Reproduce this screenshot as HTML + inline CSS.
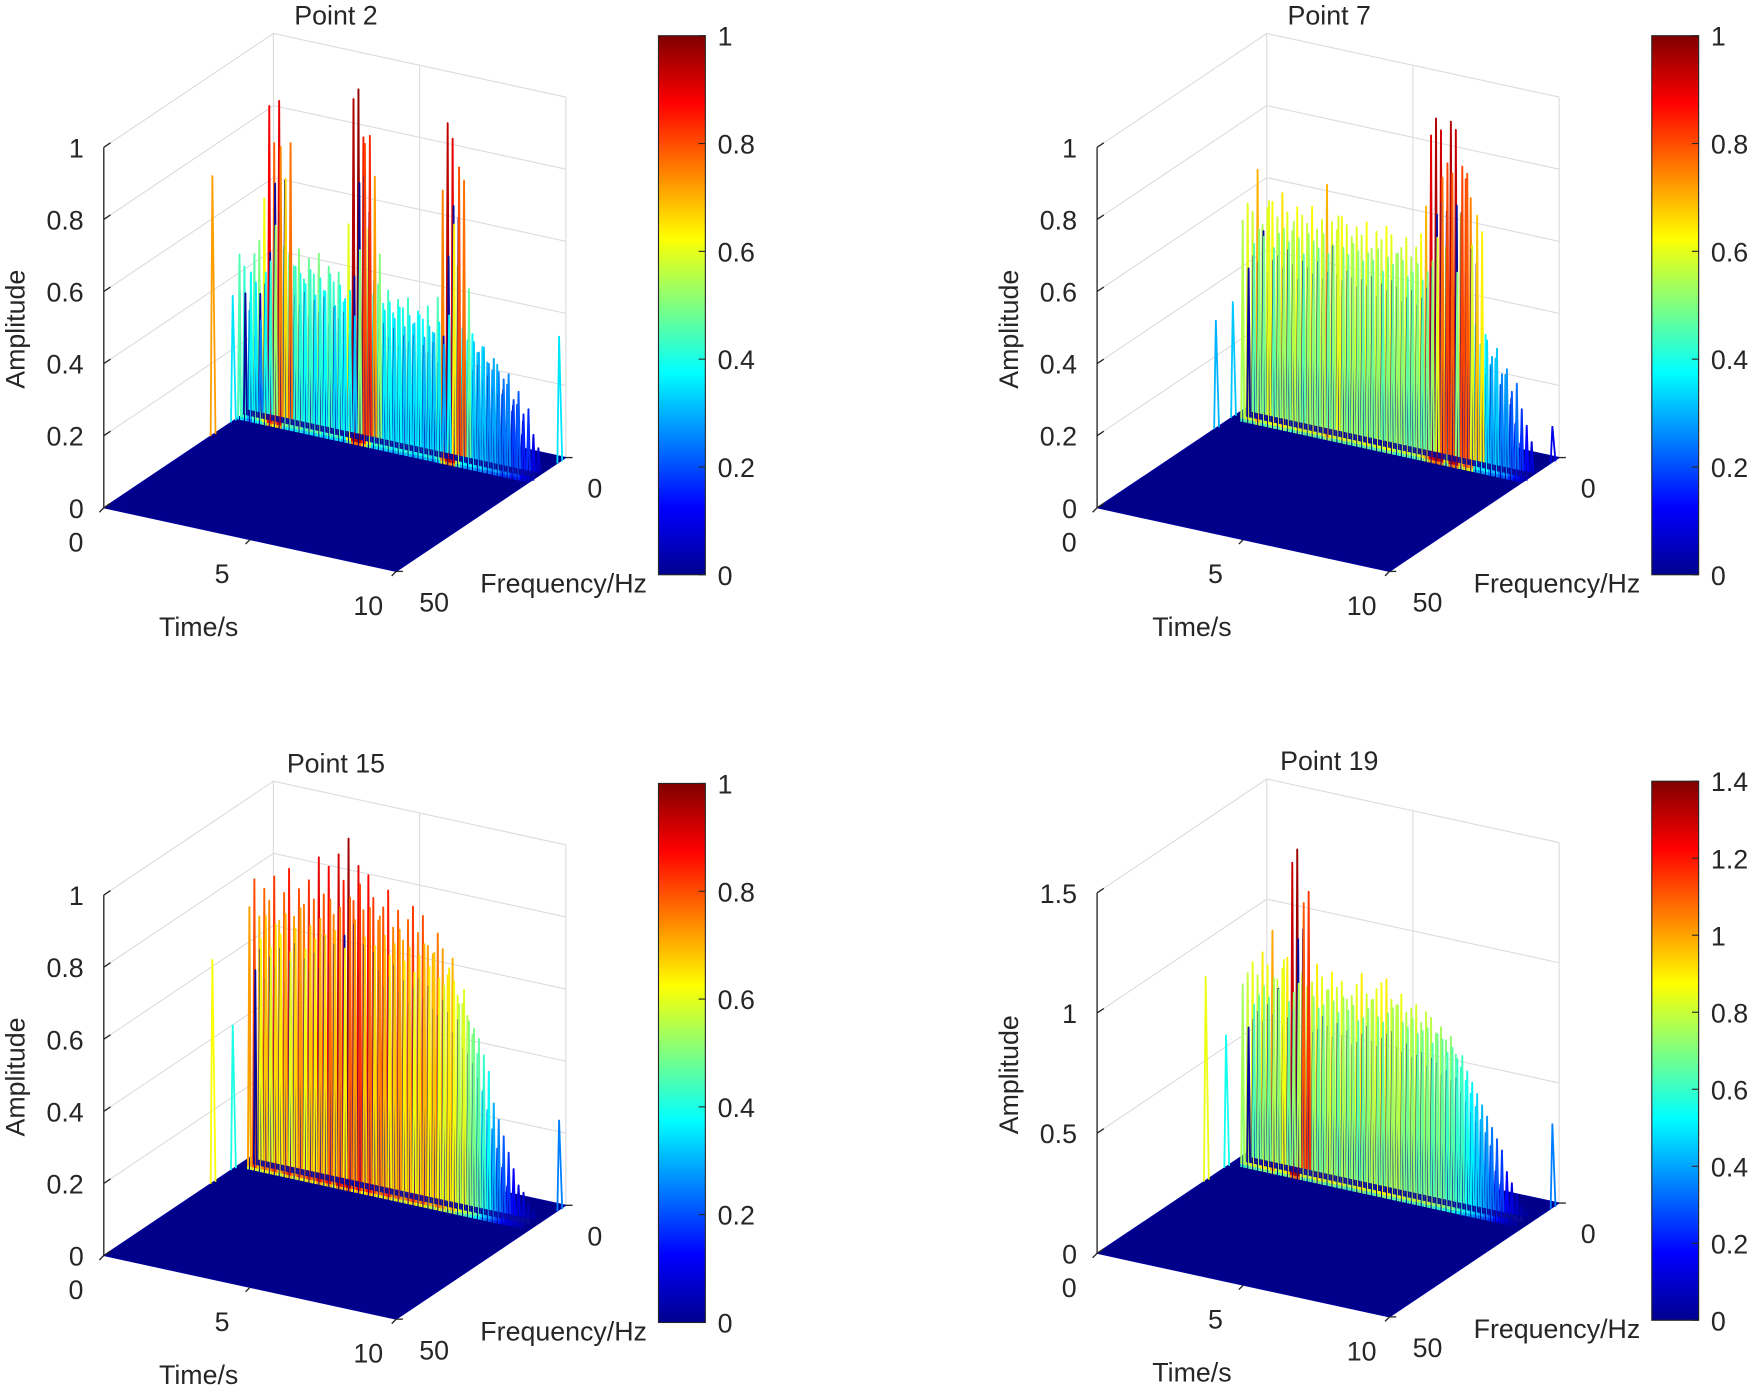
<!DOCTYPE html>
<html><head><meta charset="utf-8"><style>
html,body{margin:0;padding:0;background:#fff;}
svg{display:block;font-family:"Liberation Sans",Arial,sans-serif;}
</style></head><body>
<svg id="fig" width="1750" height="1389" viewBox="0 0 1568 1244.6" preserveAspectRatio="none" xmlns="http://www.w3.org/2000/svg">
<defs>
<linearGradient id="jetbar" x1="0" y1="1" x2="0" y2="0">
<stop offset="0" stop-color="#00008f"/><stop offset="0.125" stop-color="#0000ff"/><stop offset="0.375" stop-color="#00ffff"/><stop offset="0.625" stop-color="#ffff00"/><stop offset="0.875" stop-color="#ff0000"/><stop offset="1" stop-color="#800000"/>
</linearGradient>
</defs>
</svg>
<script>
// ---- data ----
const titles = ["Point 2","Point 7","Point 15","Point 19"];
const p1Amp = [.45,.42,.3,.46,.5,.62,.88,.78,.9,.5,.48,.45,.5,.42,.48,.44,.5,.4,.47,.43,.46,.38,.6,.95,.98,.85,.6,.42,.45,.4,.44,.38,.42,.4,.43,.36,.4,.38,.42,.35,.45,.75,.94,.9,.55,.38,.35,.37,.32,.34,.3,.28,.3,.22,.25,.18,.2,.12,.08,.05];
const p2Amp = [0,0,.55,.6,.58,.7,.55,.6,.62,.58,.65,.6,.55,.62,.6,.58,.63,.57,.6,.7,.6,.58,.62,.6,.57,.6,.58,.62,.55,.6,.58,.62,.6,.55,.57,.6,.55,.58,.62,.7,.9,.95,.92,.6,.95,.93,.7,.8,.75,.4,.35,.38,.3,.32,.25,.28,.2,.15,.1,.05];
const p3Amp = [0,0,.72,.8,.7,.78,.75,.82,.7,.78,.85,.72,.8,.76,.83,.78,.9,.8,.88,.75,.92,.85,.97,.8,.9,.78,.88,.82,.76,.8,.85,.75,.8,.72,.78,.82,.75,.8,.72,.7,.76,.72,.65,.7,.6,.58,.55,.5,.45,.35,.3,.25,.2,.15,.1,.08,.05,.03,0,0];
const p4Amp = [0,0,.75,.8,.85,.8,.9,.85,1.0,.8,.85,.9,1.3,1.36,.85,.8,.82,.9,.85,.8,.88,.82,.85,.78,.8,.85,.9,.82,.8,.85,.88,.9,.82,.8,.85,.78,.8,.82,.75,.8,.78,.72,.75,.7,.72,.65,.6,.55,.5,.45,.4,.35,.3,.2,.15,.1,.05,.03,0,0];
const spikeT = [[0,0,10],[0,0,10],[0,0,10],[0,0,10]];
const spikeF = [[18,12,2],[15,10,2],[18,12,2],[18,12,2]];
const spikeA = [[.72,.35,.35],[.3,.32,.1],[.62,.4,.25],[.85,.55,.35]];
const zTicks = [[0,.2,.4,.6,.8,1],[0,.2,.4,.6,.8,1],[0,.2,.4,.6,.8,1],[0,.5,1,1.5]];
const cbTicks = [[0,.2,.4,.6,.8,1],[0,.2,.4,.6,.8,1],[0,.2,.4,.6,.8,1],[0,.2,.4,.6,.8,1,1.2,1.4]];
const cMax = [1,1,1,1.4];
const zTop = [1,1,1,1.5];
const tTicks = [0,5,10];
const fTicks = [0,50];
const amps = [p1Amp,p2Amp,p3Amp,p4Amp];

const offsets = [[0,0],[890,0],[0,670],[890,668]];
const NS = "http://www.w3.org/2000/svg";
const svg = document.getElementById('fig');
function mk(tag, attrs, parent){const e=document.createElementNS(NS,tag);for(const k in attrs)e.setAttribute(k,attrs[k]);parent.appendChild(e);return e;}
const jetStops = [[0,[0,0,143]],[.125,[0,0,255]],[.375,[0,255,255]],[.625,[255,255,0]],[.875,[255,0,0]],[1,[128,0,0]]];
function jet(v){ v=Math.max(0,Math.min(1,v)); for(let i=1;i<jetStops.length;i++){ if(v<=jetStops[i][0]){ const [a0,c0]=jetStops[i-1],[a1,c1]=jetStops[i]; const r=(v-a0)/(a1-a0); return 'rgb('+c0.map((c,k)=>Math.round(c+(c1[k]-c)*r)).join(',')+')'; } } return 'rgb(128,0,0)'; }

amps.forEach((amp, p) => {
  const [ox, oy] = offsets[p];
  const zs = 323 / zTop[p];
  const P = (t, f, z) => [ox + 245 + 26.2*t - 3.04*f, oy + 353 + 5.7*t + 2.04*f - zs*z];
  const g = mk('g', {}, svg);
  
  
  const grid = mk('g', {stroke: '#dcdcdc', 'stroke-width': 1, fill: 'none'}, g);
  
  
  zTicks[p].forEach(z => {
    const a = P(0,50,z), b = P(0,0,z), c = P(10,0,z);
    mk('polyline', {points: `${a} ${b} ${c}`}, grid);
  });
  [[0,0],[5,0],[10,0]].forEach(([t,f]) => { const a=P(t,f,0), b=P(t,f,zTop[p]); mk('line',{x1:a[0],y1:a[1],x2:b[0],y2:b[1]},grid); });
  const fl = [P(0,0,0),P(10,0,0),P(10,50,0),P(0,50,0)];
  const floor = mk('polygon', {points: fl.map(q=>q.join(',')).join(' '), fill: '#00008b', stroke: '#00009a'}, g);
  
  
  const cur = mk('g', {fill: 'none', 'stroke-width': 1.7, 'stroke-linejoin': 'round'}, g);
  
  
  const n = amp.length, dt = 10/(n-1), d = dt*0.3;
  [[11,0.8,0.7,false],[10,1,0,false],[9,0.75,0.5,true],[7,0.85,0.25,false]].forEach(([f, sc, sh, dark]) => {
    amp.forEach((a, i) => {
      if (a <= 0) return;
      const t = i*dt + sh*dt;
      if (t > 10) return;
      const h = a*sc;
      const pts = [P(t-d,f,0), P(t,f,h), P(t+d,f,0)];
      const pl = mk('polyline', {points: pts.map(q=>q.join(',')).join(' '), stroke: dark ? '#0a0a9a' : jet(h/cMax[p])}, cur);
      
      
    });
  });
  spikeT[p].forEach((t, i) => {
    const f = spikeF[p][i], a = spikeA[p][i];
    const pts = [P(t,f+0.5,0), P(t,f,a), P(t+0.05,f-0.5,0)];
    const pl = mk('polyline', {points: pts.map(q=>q.join(',')).join(' '), fill:'none', stroke: jet(a/cMax[p]), 'stroke-width':1.6}, g);
    
    
  });
  const ax = mk('g', {stroke: '#262626', 'stroke-width': 1.2}, g);
  
  
  let a0 = P(0,50,0), a1 = P(0,50,zTop[p]);
  mk('line', {x1:a0[0],y1:a0[1],x2:a1[0],y2:a1[1]}, ax);
  const txt = (x,y,s,anchor,size,name) => { const e = mk('text',{x:x,y:y,'text-anchor':anchor||'middle','font-size':size||24,fill:'#262626'},g); e.textContent=s;   return e; };
  zTicks[p].forEach(z => { const q=P(0,50,z); mk('line',{x1:q[0],y1:q[1],x2:q[0]+6,y2:q[1]-4},ax); txt(q[0]-18,q[1]+9,String(z),'end',24,'z-tick-label'); });
  tTicks.forEach(t => { const q=P(t,50,0); mk('line',{x1:q[0],y1:q[1],x2:q[0]-4,y2:q[1]+4},ax); txt(q[0]-25,q[1]+39,String(t),'middle',24,'time-tick-label'); });
  fTicks.forEach(f => { const q=P(10,f,0); mk('line',{x1:q[0],y1:q[1],x2:q[0]+6,y2:q[1]},ax); txt(q[0]+(f===0?26:34),q[1]+36,String(f),'middle',24,'freq-tick-label'); });
  txt(ox+301, oy+22, titles[p], 'middle', 24, 'panel-title');
  const am = txt(0,0,'Amplitude','middle',24,'z-axis-title'); am.setAttribute('transform',`translate(${ox+22},${oy+295}) rotate(-90)`);
  txt(ox+178, oy+570, 'Time/s', 'middle', 24, 'time-axis-title');
  txt(ox+505, oy+531, 'Frequency/Hz', 'middle', 24, 'frequency-axis-title');
  const cb = mk('rect', {x: ox+590, y: oy+32, width: 42, height: 483, fill: 'url(#jetbar)', stroke: '#262626', 'stroke-width': 1}, g);
  
  
  cbTicks[p].forEach(v => {
    const y = oy + 515 - 483*v/cMax[p];
    mk('line', {x1: ox+626, y1: y, x2: ox+632, y2: y, stroke: '#262626'}, g);
    txt(ox+643, y+9, String(v), 'start', 24, 'colorbar-tick-label');
  });
});
</script>
</body></html>
